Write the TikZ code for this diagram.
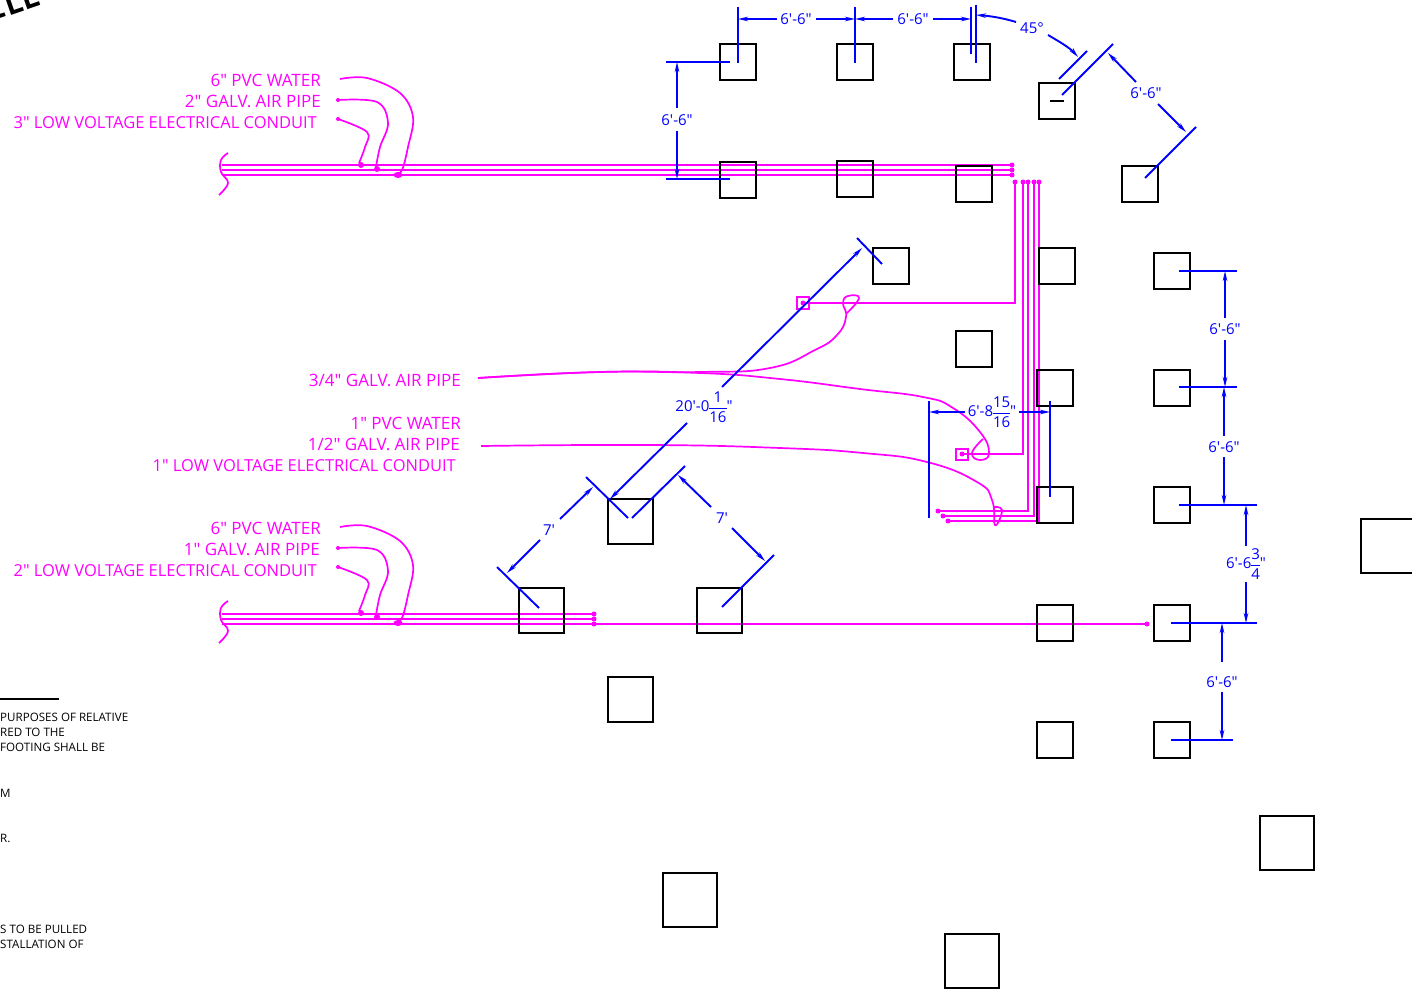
\documentclass[tikz,border=0pt]{standalone}
\usepackage{amsmath}
\usepackage{fontspec}
\usetikzlibrary{arrows.meta}
\newfontfamily\planfont{Open Sans}
\newfontfamily\titlefont{DejaVu Sans Mono}
\definecolor{dimblue}{RGB}{0,0,255}
\definecolor{pipepink}{RGB}{255,0,255}
\newcommand{\dimfrac}[2]{{\nulldelimiterspace=0pt$\genfrac{}{}{1pt}{0}{\text{#1}}{\text{#2}}$}}
\newcommand{\pipeleaders}{%
    \draw[pipe] plot[smooth,tension=0.6] coordinates {(340,79) (367,78) (400,93) (413,117) (408,147) (402,170) (395,175)};
    \draw[pipe] plot[smooth,tension=0.6] coordinates {(338,100) (377,102) (388,123) (380,147) (376,167)};
    \draw[pipe] plot[smooth,tension=0.6] coordinates {(338,119) (367,132) (365,147) (359,163)};
    \fill[pipepink] (398,175) ellipse (4.5 and 3);
    \fill[pipepink] (377,169) circle (3);
    \fill[pipepink] (361,165) circle (3);
    \fill[pipepink] (338,100) circle (2);
    \fill[pipepink] (338,119) circle (2);
    \draw[pipe] plot[smooth,tension=0.7] coordinates {(228,153) (221,160) (221,172) (228,183) (219,195)};
}
\tikzset{
    footing/.style={draw=black,line width=1.9pt},
    dimline/.style={draw=dimblue,line width=1.9pt},
    dimarrow/.style={dimline,-{Stealth[length=10pt,width=4.5pt]}},
    pipe/.style={draw=pipepink,line width=1.7pt},
    dimtext/.style={text=dimblue,font=\planfont\fontsize{15}{15}\selectfont,inner sep=0pt},
    pipetext/.style={text=pipepink,font=\planfont\fontsize{17}{17}\selectfont,inner sep=0pt,anchor=east},
    condtext/.style={pipetext,font=\planfont\fontsize{16.5}{16.5}\selectfont},
    notetext/.style={text=black,font=\planfont\fontsize{11.6}{11.6}\selectfont,inner sep=0pt,anchor=west},
}
\begin{document}
\begin{tikzpicture}[x=1pt,y=-1pt]
    \useasboundingbox (0,0) rectangle (1412,992);
    \clip (0,0) rectangle (1412,992);

    % pipes
    \draw[pipe] (222,165) -- (1012,165);
    \draw[pipe] (222,170) -- (1012,170);
    \draw[pipe] (222,175) -- (1012,175);
    \draw[pipe] (1015,182) -- (1015,303) -- (803,303);
    \draw[pipe] (1023,182) -- (1023,454) -- (962,454);
    \draw[pipe] (1028,182) -- (1028,511) -- (938,511);
    \draw[pipe] (1034,182) -- (1034,516) -- (943,516);
    \draw[pipe] (1039,182) -- (1039,521) -- (948,521);
    \draw[pipe] (222,614) -- (594,614);
    \draw[pipe] (222,619) -- (594,619);
    \draw[pipe] (222,624) -- (1147,624);
    \foreach \px/\py in {1012/165,1012/170,1012/175,1015/182,1023/182,1028/182,1034/182,1039/182,938/511,943/516,948/521,594/614,594/619,594/624,1147/624,803/303,962/454}
        \fill[pipepink] (\px,\py) circle (2.5);
    \draw[pipe] (797,297) rectangle (809,309);
    \draw[pipe] (956,449) rectangle (968,460);

    % small footings
    \draw[footing] (720,44) rectangle (756,80);
    \draw[footing] (837,44) rectangle (873,80);
    \draw[footing] (954,44) rectangle (990,80);
    \draw[footing] (1039,83) rectangle (1075,119);
    \draw[footing] (720,162) rectangle (756,198);
    \draw[footing] (837,161) rectangle (873,197);
    \draw[footing] (956,166) rectangle (992,202);
    \draw[footing] (1122,166) rectangle (1158,202);
    \draw[footing] (873,248) rectangle (909,284);
    \draw[footing] (1039,248) rectangle (1075,284);
    \draw[footing] (1154,253) rectangle (1190,289);
    \draw[footing] (956,331) rectangle (992,367);
    \draw[footing] (1037,370) rectangle (1073,406);
    \draw[footing] (1154,370) rectangle (1190,406);
    \draw[footing] (1037,487) rectangle (1073,523);
    \draw[footing] (1154,487) rectangle (1190,523);
    \draw[footing] (1037,605) rectangle (1073,641);
    \draw[footing] (1154,605) rectangle (1190,641);
    \draw[footing] (1037,722) rectangle (1073,758);
    \draw[footing] (1154,722) rectangle (1190,758);
    % medium and large footings
    \draw[footing] (608,499) rectangle (653,544);
    \draw[footing] (519,588) rectangle (564,633);
    \draw[footing] (697,588) rectangle (742,633);
    \draw[footing] (608,677) rectangle (653,722);
    \draw[footing] (1361,519) rectangle (1420,573);
    \draw[footing] (1260,816) rectangle (1314,870);
    \draw[footing] (663,873) rectangle (717,927);
    \draw[footing] (945,934) rectangle (999,988);

    % leaders
    \pipeleaders
    \begin{scope}[yshift=-448pt]
        \pipeleaders
    \end{scope}
    \draw[pipe] plot[smooth,tension=0.8] coordinates {(478,378) (600,372) (700,372) (770,368) (815,350) (837,335) (846,317) (843,303) (848,296) (859,298) (847,313)};
    \draw[pipe] plot[smooth,tension=0.8] coordinates {(478,378) (600,372) (700,373) (780,379) (860,389) (923,397) (953,408) (980,432) (989,453) (980,460) (972,453) (983,439)};
    \draw[pipe] plot[smooth,tension=0.8] coordinates {(481,446) (650,445) (780,448) (863,453) (927,462) (977,482) (992,500) (995,525) (1002,510) (993,507)};

    % dimension lines, top row
    \draw[dimline] (738,7) -- (738,63);
    \draw[dimline] (855,7) -- (855,63);
    \draw[dimline] (971,7) -- (971,54);
    \draw[dimline] (976,5) -- (976,63);
    \draw[dimarrow] (777,19) -- (738,19);
    \draw[dimarrow] (816,19) -- (855,19);
    \draw[dimarrow] (893,19) -- (855,19);
    \draw[dimarrow] (933,19) -- (971,19);
    \node[dimtext] (dimtopa) at (796,19) {6'-6"};
    \node[dimtext] (dimtopb) at (913,19) {6'-6"};
    % angle
    \draw[dimarrow] (1016,22) .. controls (1003,18) and (990,16) .. (976,15);
    \draw[dimarrow] (1048,35) .. controls (1060,42) and (1070,48) .. (1078,57);
    \node[dimtext] (dimangle) at (1032,28) {45°};
    \draw[dimline] (1059,79) -- (1087,51);
    \draw[dimline] (1062,95) -- (1113,44);
    \draw[black,line width=1.9pt] (1050,101) -- (1064,101);
    \draw[dimline] (1145,178) -- (1196,127);
    \draw[dimarrow] (1136,82) -- (1108,53);
    \draw[dimarrow] (1158,104) -- (1186,132);
    \node[dimtext] (dimdiaga) at (1146,93) {6'-6"};
    % left of top row
    \draw[dimline] (666,62) -- (730,62);
    \draw[dimline] (666,179) -- (730,179);
    \draw[dimarrow] (677,108) -- (677,62);
    \draw[dimarrow] (677,131) -- (677,179);
    \node[dimtext] (dimleft) at (677,120) {6'-6"};

    % long diagonal
    \draw[dimline] (857,238) -- (882,264);
    \draw[dimarrow] (722,387) -- (862,248);
    \draw[dimarrow] (687,423) -- (610,499);
    \node[dimtext] (dimlong) at (704,407) {20'-0\dimfrac{1}{16}"};

    % seven foot pair
    \draw[dimline] (586,477) -- (628,518);
    \draw[dimline] (632,518) -- (685,466);
    \draw[dimline] (497,567) -- (539,608);
    \draw[dimline] (722,607) -- (774,555);
    \draw[dimarrow] (560,519) -- (593,487);
    \draw[dimarrow] (540,540) -- (507,573);
    \draw[dimarrow] (711,507) -- (678,475);
    \draw[dimarrow] (732,528) -- (765,561);
    \node[dimtext] (dimsevena) at (549,530) {7'};
    \node[dimtext] (dimsevenb) at (722,518) {7'};

    % middle
    \draw[dimline] (929,401) -- (929,518);
    \draw[dimline] (1050,401) -- (1050,497);
    \draw[dimarrow] (965,412) -- (929,412);
    \draw[dimarrow] (1019,412) -- (1050,412);
    \node[dimtext] (dimmid) at (992,412) {6'-8\dimfrac{15}{16}"};

    % right column
    \draw[dimline] (1179,271) -- (1237,271);
    \draw[dimline] (1179,387) -- (1237,387);
    \draw[dimline] (1179,505) -- (1257,505);
    \draw[dimline] (1171,623) -- (1257,623);
    \draw[dimline] (1171,740) -- (1233,740);
    \draw[dimarrow] (1225,318) -- (1225,271);
    \draw[dimarrow] (1225,340) -- (1225,387);
    \node[dimtext] (dimrighta) at (1225,329) {6'-6"};
    \draw[dimarrow] (1224,436) -- (1224,387);
    \draw[dimarrow] (1224,457) -- (1224,505);
    \node[dimtext] (dimrightb) at (1224,447) {6'-6"};
    \draw[dimarrow] (1246,546) -- (1246,505);
    \draw[dimarrow] (1246,582) -- (1246,623);
    \node[dimtext] (dimrightc) at (1246,564) {6'-6\dimfrac{3}{4}"};
    \draw[dimarrow] (1222,662) -- (1222,623);
    \draw[dimarrow] (1222,692) -- (1222,740);
    \node[dimtext] (dimrightd) at (1222,682) {6'-6"};

    % pipe labels
    \node[pipetext] (waterb) at (321,80) {6" PVC WATER};
    \node[pipetext] (airb) at (321,101) {2" GALV. AIR PIPE};
    \node[condtext] (condb) at (317,123) {3" LOW VOLTAGE ELECTRICAL CONDUIT};
    \node[pipetext] (airc) at (461,380) {3/4" GALV. AIR PIPE};
    \node[pipetext] (waterc) at (461,423) {1" PVC WATER};
    \node[pipetext] (aird) at (460,444) {1/2" GALV. AIR PIPE};
    \node[condtext] (condc) at (456,466) {1" LOW VOLTAGE ELECTRICAL CONDUIT};
    \node[pipetext] (watera) at (321,528) {6" PVC WATER};
    \node[pipetext] (aira) at (320,549) {1" GALV. AIR PIPE};
    \node[condtext] (conda) at (317,571) {2" LOW VOLTAGE ELECTRICAL CONDUIT};

    % notes cut by the sheet edge
    \draw[black,line width=1.6pt] (0,699) -- (59,699);
    \node[notetext] (notea) at (0,717) {PURPOSES OF RELATIVE};
    \node[notetext] (noteb) at (0,732) {RED TO THE};
    \node[notetext] (notec) at (0,747) {FOOTING SHALL BE};
    \node[notetext] (noted) at (0,793) {M};
    \node[notetext] (notee) at (0,838) {R.};
    \node[notetext] (notef) at (0,929) {S TO BE PULLED};
    \node[notetext] (noteg) at (0,944) {STALLATION OF};
    \node[anchor=base west,inner sep=0pt,rotate=19,font=\titlefont\bfseries\fontsize{30}{30}\selectfont] (title) at (-9,22) {ILE};
\end{tikzpicture}
\end{document}
